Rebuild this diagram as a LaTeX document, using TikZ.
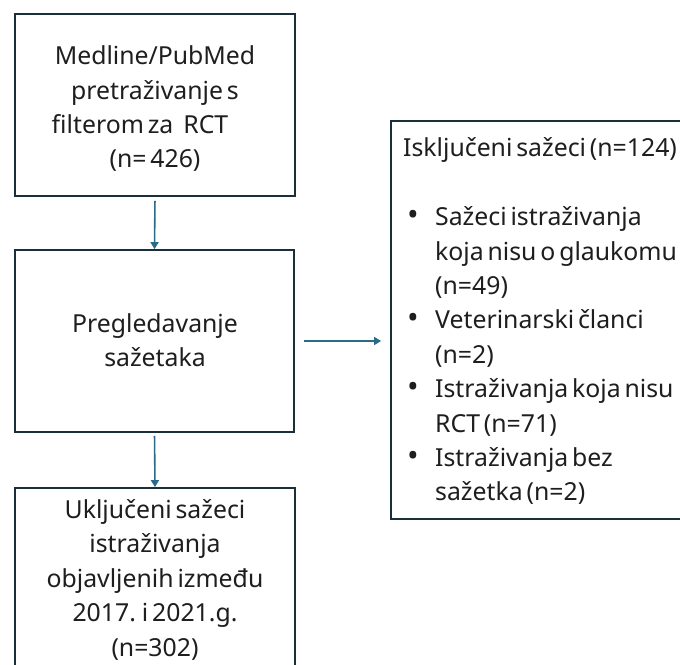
\documentclass[tikz,border=0pt]{standalone}
\usepackage{fontspec}
\usepackage{graphicx}
\setmainfont{Noto Sans}[WordSpace=0.6]
\usetikzlibrary{arrows.meta}
\definecolor{boxc}{HTML}{1B2F3B}
\definecolor{arrc}{HTML}{2A6B88}
\definecolor{txtc}{HTML}{1E1E1E}
\newcommand{\bul}{\hspace*{4pt}\makebox[28pt][l]{\scalebox{1.25}{•}}}
\begin{document}
\begin{tikzpicture}[x=1pt,y=-1pt,
  box/.style={draw=boxc, line width=1.8pt, inner sep=0pt},
  conn/.style={draw=arrc, line width=1.6pt, -{Triangle[length=7pt,width=8pt]}},
  txt/.style={text=txtc, font=\fontsize{24.8}{34.4}\selectfont, inner sep=0pt}]
\useasboundingbox (0,0) rectangle (680,664);
\fill[white] (0,0) rectangle (680,664);
\begin{scope}
\clip (0,0) rectangle (680,664);
% boxes
\node[box, minimum width=280pt, minimum height=182pt] (b1) at (155,105) {};
\node[box, minimum width=279pt, minimum height=182pt] (b2) at (154.5,341) {};
\node[box, minimum width=280pt, minimum height=230pt] (b3) at (155,603) {};
\node[box, minimum width=320pt, minimum height=398pt] (b4) at (551,320) {};
% texts
\node[txt, align=center] (t1) at (155,108.8)
  {Medline/PubMed\\pretraživanje s\\filterom za\hspace{10pt}RCT\makebox[30pt]{}\\(n= 426)};
\node[txt, align=center] (t2) at (155,340.3) {Pregledavanje\\sažetaka};
\node[txt, align=center] (t3) at (155,579.8)
  {Uključeni sažeci\\istraživanja\\objavljenih između\\2017. i 2021.g.\\(n=302)};
\node[txt, align=left, anchor=north west] (t4) at (403,137.6)
  {Isključeni sažeci (n=124)\\[34.4pt]
   \bul Sažeci istraživanja\\
   \hspace*{32pt}koja nisu o glaukomu\\
   \hspace*{32pt}(n=49)\\
   \bul Veterinarski članci\\
   \hspace*{32pt}(n=2)\\
   \bul Istraživanja koja nisu\\
   \hspace*{32pt}RCT (n=71)\\
   \bul Istraživanja bez\\
   \hspace*{32pt}sažetka (n=2)};
\end{scope}
% connectors
\draw[conn, shorten <=4pt] (b1.south) -- (b2.north);
\draw[conn, shorten <=3pt] (b2.south) -- (b3.north);
\draw[conn, shorten <=9pt, shorten >=9pt] (b2.east) -- (b4.west |- b2.east);
\end{tikzpicture}
\end{document}
